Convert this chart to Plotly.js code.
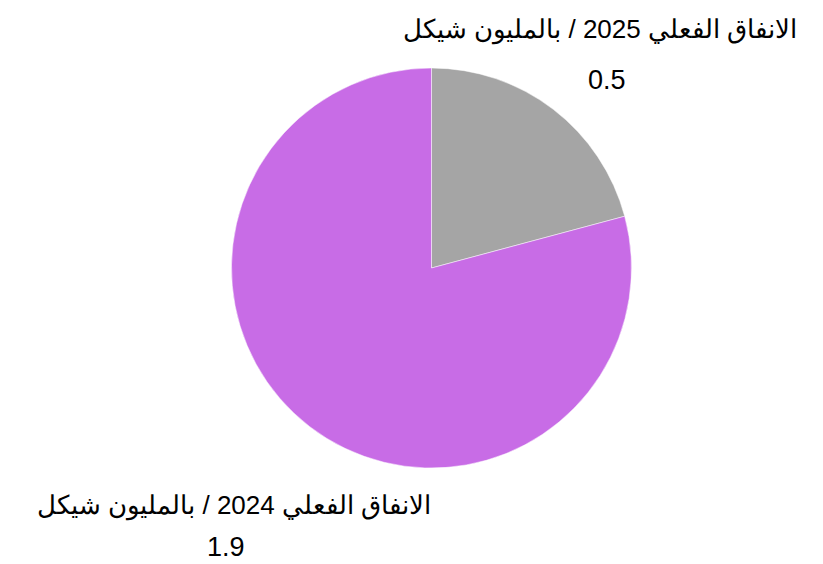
<!DOCTYPE html>
<html><head><meta charset="utf-8">
<script src="https://cdn.plot.ly/plotly-3.0.1.min.js"></script>
<style>html,body{margin:0;padding:0;background:#fff}</style>
</head><body><div id="chart" style="width:823px;height:564px"></div>
<script>
const labels = ["الانفاق الفعلي 2025 / بالمليون شيكل", "الانفاق الفعلي 2024 / بالمليون شيكل"];
const values = [0.5, 1.9];
const colors = ["#a5a5a5", "#c86ce6"];

const W = 823, H = 564;
const M = {l: 40, r: 0, t: 68, b: 96};
// label anchor positions (pixels) for the outside labels
const labelPos = [[600, 29], [234, 505]];
const valuePos = [[607, 80], [226, 547]];
const px = (x, y) => ({x: (x - M.l) / (W - M.l - M.r), y: (H - M.b - y) / (H - M.t - M.b)});
const labelFont = {family: "Liberation Sans, Arial, sans-serif", size: 26, color: "#000"};
const valueFont = {family: "Liberation Sans, Arial, sans-serif", size: 27, color: "#000"};

const annotations = [];
labels.forEach((lab, i) => {
  const p = px(labelPos[i][0], labelPos[i][1]);
  annotations.push({xref: "paper", yref: "paper", x: p.x, y: p.y, text: lab, showarrow: false,
    xanchor: "center", yanchor: "middle", font: labelFont});
  const q = px(valuePos[i][0], valuePos[i][1]);
  annotations.push({xref: "paper", yref: "paper", x: q.x, y: q.y, text: String(values[i]), showarrow: false,
    xanchor: "center", yanchor: "middle", font: valueFont});
});

Plotly.newPlot("chart", [{
  type: "pie",
  labels: labels,
  values: values,
  sort: false,
  direction: "clockwise",
  rotation: 0,
  marker: {colors: colors, line: {color: "#ffffff", width: 0.5}},
  textinfo: "none",
  hoverinfo: "label+value"
}], {
  width: W, height: H,
  margin: M,
  showlegend: false,
  paper_bgcolor: "#fff",
  annotations: annotations,
  font: {family: "Liberation Sans, Arial, sans-serif"}
}, {displayModeBar: false});
</script></body></html>
